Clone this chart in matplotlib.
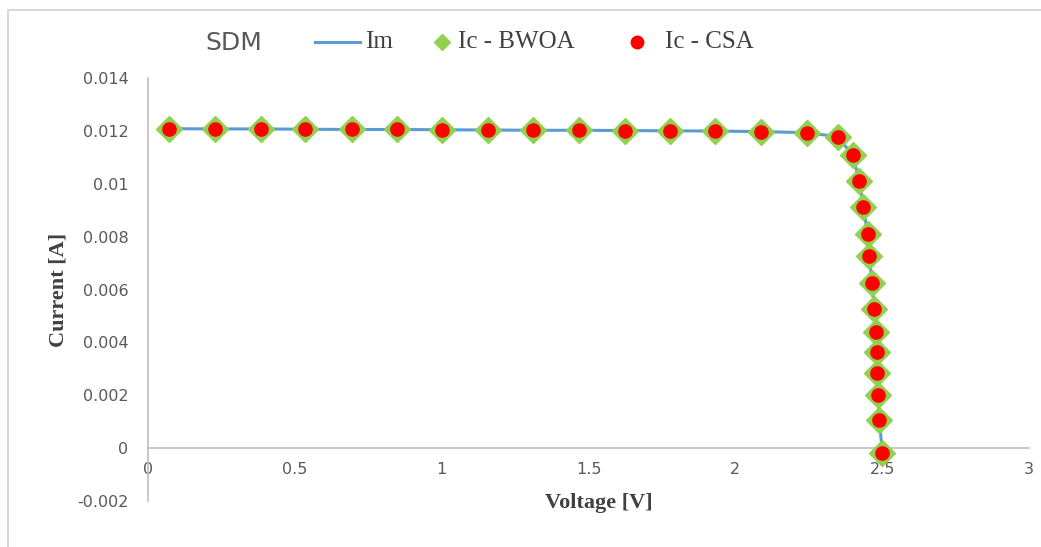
import matplotlib.pyplot as plt
from matplotlib.lines import Line2D
from matplotlib.patches import Rectangle

# I-V data (SDM)
voltage = [0.072, 0.228, 0.383, 0.536, 0.693, 0.848, 1.002, 1.157, 1.311, 1.467,
           1.625, 1.776, 1.931, 2.087, 2.243, 2.348, 2.399, 2.422, 2.436, 2.450,
           2.456, 2.465, 2.473, 2.479, 2.482, 2.484, 2.487, 2.490, 2.501]
i_measured = [0.01209, 0.01208, 0.01208, 0.01207, 0.01206, 0.01206, 0.01205, 0.01204,
              0.01203, 0.01203, 0.01202, 0.01201, 0.01200, 0.01198, 0.01194, 0.01179,
              0.01110, 0.01012, 0.00914, 0.00811, 0.00727, 0.00626, 0.00525, 0.00438,
              0.00365, 0.00283, 0.00201, 0.00106, -0.00020]
i_bwoa = list(i_measured)
i_csa = list(i_measured)

xticks = [0, 0.5, 1, 1.5, 2, 2.5, 3]
yticks = [-0.002, 0, 0.002, 0.004, 0.006, 0.008, 0.01, 0.012, 0.014]
ytick_labels = ['-0.002', '0', '0.002', '0.004', '0.006', '0.008', '0.01', '0.012', '0.014']

grey = '#595959'
dark = '#404040'
blue = '#5B9BD5'
green = '#92D050'
red = '#FF0000'

fig = plt.figure(figsize=(10.41, 5.47), dpi=100)
ax = fig.add_axes([0.1422, 0.084, 0.8463, 0.773])

ax.plot(voltage, i_measured, color=blue, lw=2.2, zorder=2)
ax.plot(voltage, i_bwoa, 'D', color=green, ms=13, ls='none', zorder=3)
ax.plot(voltage, i_csa, 'o', color=red, ms=9.5, ls='none', zorder=4)

ax.set_xlim(0, 3)
ax.set_ylim(-0.002, 0.014)
ax.set_xticks(xticks)
ax.set_xticklabels([str(x) for x in xticks])
ax.set_yticks(yticks)
ax.set_yticklabels(ytick_labels)

for s in ['top', 'right']:
    ax.spines[s].set_visible(False)
ax.spines['bottom'].set_position(('data', 0))
ax.spines['bottom'].set_color('#BFBFBF')
ax.spines['left'].set_color('#BFBFBF')
ax.spines['bottom'].set_linewidth(1.2)
ax.spines['left'].set_linewidth(1.2)
ax.tick_params(axis='both', length=0, colors=grey, labelsize=11.5)
ax.tick_params(axis='x', pad=10)
ax.tick_params(axis='y', pad=14)

ax.set_ylabel('Current [A]', family='Liberation Serif', fontweight='bold',
              fontsize=16, color=dark, labelpad=6)
fig.text(0.575, 0.080, 'Voltage [V]', family='Liberation Serif', fontweight='bold',
         fontsize=16, color=dark, ha='center', va='center')

# title and legend row
ly = 0.924
fig.text(0.197, 0.921, 'SDM', fontsize=18, color=grey, ha='left', va='center')
fig.add_artist(Line2D([315 / 1041, 360 / 1041], [ly, ly], color=blue, lw=2.2))
fig.text(365 / 1041, ly, 'Im', family='Liberation Serif', fontsize=18, color=dark,
         ha='left', va='center')
fig.add_artist(Line2D([442 / 1041], [ly], marker='D', color=green, ms=8, ls='none'))
fig.text(458 / 1041, ly, 'Ic - BWOA', family='Liberation Serif', fontsize=18,
         color=dark, ha='left', va='center')
fig.add_artist(Line2D([637 / 1041], [ly], marker='o', color=red, ms=9, ls='none'))
fig.text(665 / 1041, ly, 'Ic - CSA', family='Liberation Serif', fontsize=18,
         color=dark, ha='left', va='center')

# chart area border
fig.patches.append(Rectangle((0.008, -0.1), 1.3, 1.082, transform=fig.transFigure,
                             fill=False, edgecolor='#D0D0D0', lw=1.2))

fig.savefig('out.png', dpi=100)
